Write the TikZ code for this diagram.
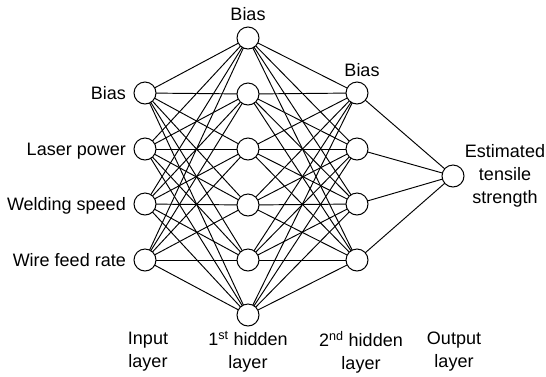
\documentclass[tikz,border=0pt]{standalone}
\usepackage{fontspec}
\setmainfont{Liberation Sans}
\begin{document}
\begin{tikzpicture}[x=1pt,y=-1pt,
  neuron/.style={circle,draw,line width=1pt,minimum size=22pt,inner sep=0pt,fill=white},
  link/.style={line width=0.95pt},
  lbl/.style={font=\fontsize{18}{23}\selectfont,inner sep=0pt},
  layerlbl/.style={lbl,align=center}]
\useasboundingbox (0,0) rectangle (546,376);

% connectors first, neurons drawn on top
\foreach \i/\y in {1/93,2/149,3/204,4/260} \coordinate (in\i) at (145,\y);
\foreach \j/\y in {1/38,2/94,3/149,4/205,5/260,6/315} \coordinate (ha\j) at (248,\y);
\foreach \k/\y in {1/93,2/149,3/204,4/260} \coordinate (hb\k) at (357,\y);
\coordinate (out) at (453,176);

\foreach \i in {1,...,4}
  \foreach \j in {1,...,6}
    \draw[link] (in\i) -- (ha\j);
\foreach \j in {1,...,6}
  \foreach \k in {1,...,4}
    \draw[link] (ha\j) -- (hb\k);
\foreach \k in {1,...,4}
  \draw[link] (hb\k) -- (out);

% neurons
\foreach \i in {1,...,4} \node[neuron] (nin\i) at (in\i) {};
\foreach \j in {1,...,6} \node[neuron] (nha\j) at (ha\j) {};
\foreach \k in {1,...,4} \node[neuron] (nhb\k) at (hb\k) {};
\node[neuron] (nout) at (out) {};

% input labels
\node[lbl,anchor=base east] (tbias) at (126,99) {Bias};
\node[lbl,anchor=base east] (tlaser) at (126,155) {Laser power};
\node[lbl,anchor=base east] (tspeed) at (126,210) {Welding speed};
\node[lbl,anchor=base east] (tfeed) at (126,266) {Wire feed rate};

% bias labels of the hidden layers
\node[lbl,anchor=base] (tbiasa) at (248,20) {Bias};
\node[lbl,anchor=base] (tbiasb) at (362,76) {Bias};

% output label
\node[layerlbl] (tout) at (505,176) {Estimated\\tensile\\strength};

% layer captions
\node[layerlbl] (cin) at (148,352) {Input\\layer};
\node[layerlbl] (cha) at (248,352) {1\textsuperscript{st} hidden\\layer};
\node[layerlbl] (chb) at (361,352) {2\textsuperscript{nd} hidden\\layer};
\node[layerlbl] (cout) at (454,352) {Output\\layer};
\end{tikzpicture}
\end{document}
